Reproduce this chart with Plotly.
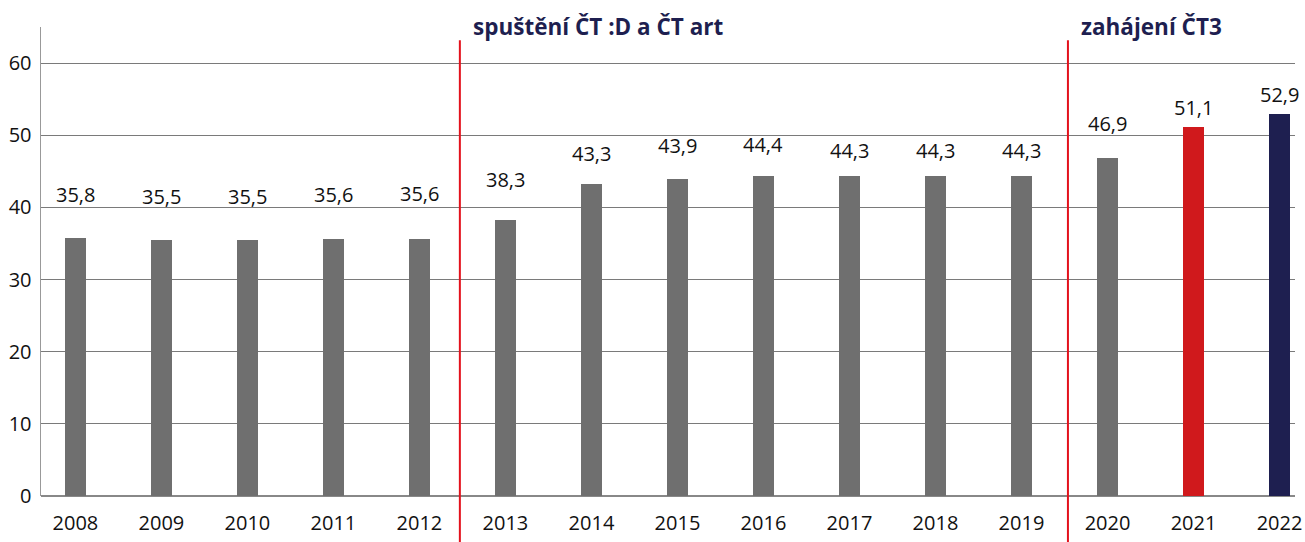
import plotly.graph_objects as go

years = ["2008", "2009", "2010", "2011", "2012", "2013", "2014", "2015",
         "2016", "2017", "2018", "2019", "2020", "2021", "2022"]
values = [35.8, 35.5, 35.5, 35.6, 35.6, 38.3, 43.3, 43.9, 44.4, 44.3, 44.3, 44.3, 46.9, 51.1, 52.9]
value_labels = ["35,8", "35,5", "35,5", "35,6", "35,6", "38,3", "43,3", "43,9",
                "44,4", "44,3", "44,3", "44,3", "46,9", "51,1", "52,9"]
events = ["spuštění ČT :D a ČT art", "zahájení ČT3"]
event_after = ["2012", "2019"]

# styling / layout (not data)
GRAY = "#6f6f6f"
RED = "#d0191c"
NAVY = "#1e1f50"
bar_colors = [GRAY] * 13 + [RED, NAVY]
label_lift = [43, 43, 43, 45, 46, 40, 30, 34, 31, 26, 26, 26, 34, 20, 20]
event_nudge = [-0.03, 0.04]
FONT = "Open Sans"

xpos = list(range(len(years)))
fig = go.Figure()
fig.add_trace(go.Bar(
    x=xpos, y=values, width=0.245,
    marker=dict(color=bar_colors, line=dict(width=0)),
    hoverinfo="skip", showlegend=False,
))

xr = [-0.4, 14.18]
annotations = []
for i, (v, t) in enumerate(zip(values, value_labels)):
    annotations.append(dict(x=i, y=v, xref="x", yref="y", text=t, showarrow=False,
                            yshift=label_lift[i], yanchor="middle",
                            font=dict(family=FONT, size=20, color="#111111")))

shapes = []
for k, (ev, after) in enumerate(zip(events, event_after)):
    idx = years.index(after)
    xline = idx + 0.5 + event_nudge[k]
    xp = (xline - xr[0]) / (xr[1] - xr[0])
    shapes.append(dict(type="line", xref="paper", yref="paper", x0=xp, x1=xp,
                       y0=-0.1, y1=0.972, line=dict(color="#e3121c", width=2)))
    annotations.append(dict(x=xp + 0.009, y=1.002, xref="paper", yref="paper", text="<b>" + ev + "</b>",
                            showarrow=False, xanchor="left", yanchor="middle",
                            font=dict(family=FONT, size=22.5, color=NAVY)))

fig.update_layout(
    width=1305, height=542,
    margin=dict(l=41, r=10, t=27, b=46, autoexpand=False),
    paper_bgcolor="white", plot_bgcolor="white",
    bargap=0,
    xaxis=dict(range=xr, tickmode="array", tickvals=xpos, ticktext=years,
               automargin=False,
               showgrid=False, zeroline=False, showline=False, ticks="",
               ticklabelstandoff=13,
               tickfont=dict(family=FONT, size=20, color="#111111")),
    yaxis=dict(range=[0, 65], tickvals=[0, 10, 20, 30, 40, 50, 60],
               automargin=False,
               showgrid=True, gridcolor="#7a7a7a", gridwidth=1,
               zeroline=True, zerolinecolor="#888888", zerolinewidth=1.5,
               showline=True, linecolor="#999999", linewidth=1.5,
               ticks="", ticklabelstandoff=4,
               tickfont=dict(family=FONT, size=20, color="#111111")),
    shapes=shapes, annotations=annotations,
)
fig.write_html("out.html", config={"displayModeBar": False, "staticPlot": True},
               post_script="document.body.style.margin='0';document.body.style.overflow='hidden';")
